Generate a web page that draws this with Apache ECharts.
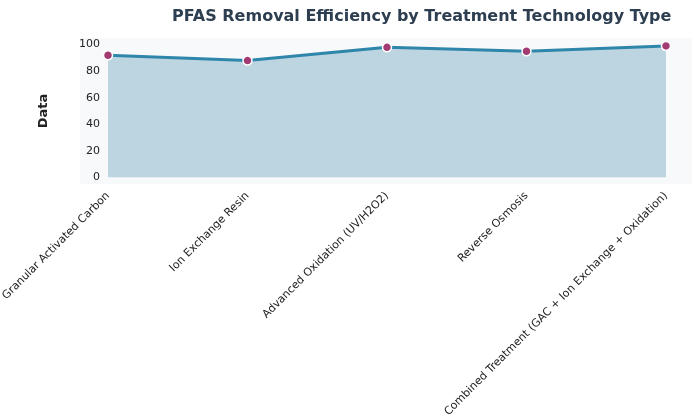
<!DOCTYPE html>
<html><head><meta charset="utf-8">
<script src="https://cdn.jsdelivr.net/npm/echarts@6/dist/echarts.min.js"></script>
<style>html,body{margin:0;padding:0;background:#fff}#c{width:700px;height:419px}</style>
</head><body><div id="c"></div>
<script>
const categories = ["Granular Activated Carbon","Ion Exchange Resin","Advanced Oxidation (UV/H2O2)","Reverse Osmosis","Combined Treatment (GAC + Ion Exchange + Oxidation)"];
const values = [92, 88, 98, 95, 99];
const yTicks = [0, 20, 40, 60, 80, 100];
const chart = echarts.init(document.getElementById('c'));
chart.setOption({
  animation:false,
  title:{text:'PFAS Removal Efficiency by Treatment Technology Type',left:167,top:4,
    textStyle:{fontFamily:'DejaVu Sans',fontSize:16,fontWeight:'bold',color:'#2c3e50'}},
  graphic:[{type:'rect',z:-1,shape:{x:80,y:38,width:612,height:146},style:{fill:'#f8f9fa'}}],
  grid:{left:108,right:34,top:38,bottom:235,outerBoundsMode:'none',containLabel:false},
  xAxis:{type:'category',data:categories,boundaryGap:false,
    name:'Time Period',nameLocation:'middle',nameGap:222,
    nameTextStyle:{fontFamily:'DejaVu Sans',fontSize:12,fontWeight:'bold',color:'#222'},
    axisLine:{show:false},axisTick:{show:false},
    axisLabel:{rotate:45,interval:0,margin:10,fontFamily:'DejaVu Sans',fontSize:11,color:'#222'}},
  yAxis:{type:'value',min:-5,max:105,
    name:'Data',nameLocation:'middle',nameGap:58,
    nameTextStyle:{fontFamily:'DejaVu Sans',fontSize:13,fontWeight:'bold',color:'#222'},
    splitLine:{show:false},axisLine:{show:false},axisTick:{show:false},
    axisLabel:{customValues:yTicks,margin:8,fontFamily:'DejaVu Sans',fontSize:11,color:'#222'}},
  series:[{type:'line',data:values,symbol:'circle',symbolSize:9,
    lineStyle:{color:'#2e86ab',width:3},
    itemStyle:{color:'#a23b72',borderColor:'#fff',borderWidth:1.5},
    areaStyle:{color:'#bcd5e1',opacity:1,origin:0}}]
});
</script></body></html>
